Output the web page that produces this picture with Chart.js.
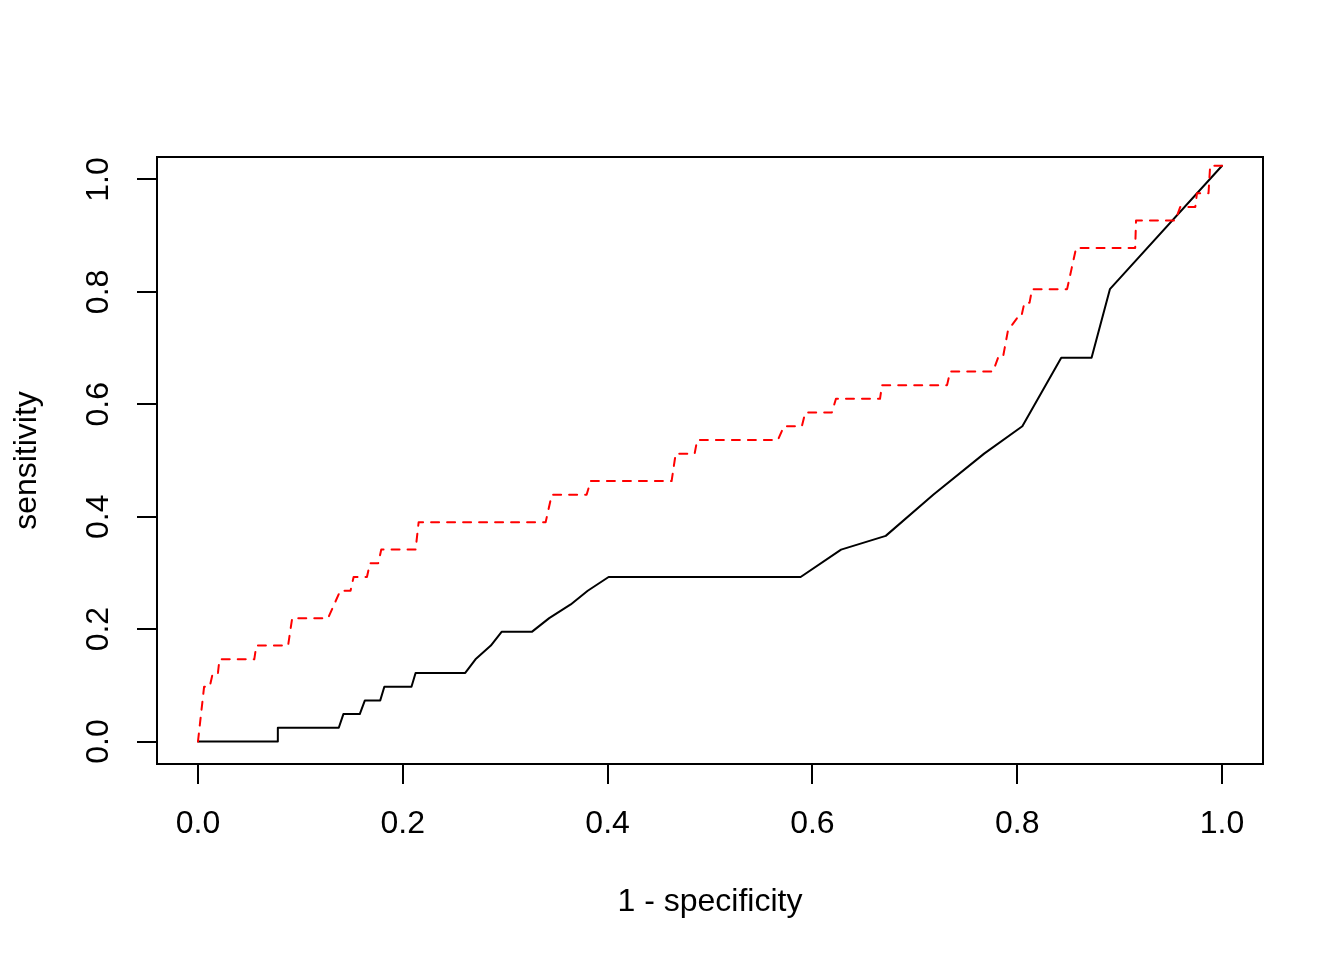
<!DOCTYPE html>
<html>
<head>
<meta charset="utf-8">
<script src="https://cdn.jsdelivr.net/npm/chart.js@4.4.1/dist/chart.umd.min.js"></script>
<style>
  html, body { margin: 0; padding: 0; background: #ffffff; }
  #c { display: block; }
</style>
</head>
<body>
<canvas id="c" width="1344" height="960"></canvas>
<script>
// ---- data ----
const xTitle = "1 - specificity";
const yTitle = "sensitivity";
const tickValues = [0.0, 0.2, 0.4, 0.6, 0.8, 1.0];

// black solid curve
const blackX = [0, 0.0775, 0.078, 0.1375, 0.142, 0.158, 0.163, 0.178, 0.182, 0.2085,
  0.2125, 0.261, 0.271, 0.286, 0.2965, 0.326, 0.343, 0.364, 0.3806, 0.401,
  0.5885, 0.628, 0.6716, 0.718, 0.7677, 0.805, 0.843, 0.8726, 0.8905, 1.0];
const blackY = [0, 0, 0.0244, 0.0244, 0.0488, 0.0488, 0.0732, 0.0732, 0.0976, 0.0976,
  0.1220, 0.1220, 0.1463, 0.1707, 0.1951, 0.1951, 0.2195, 0.2439, 0.2683, 0.2927,
  0.2927, 0.3415, 0.3659, 0.4390, 0.5122, 0.5610, 0.6829, 0.6829, 0.8049, 1.0244];

// red dashed curve
const redX = [0, 0.006, 0.0115, 0.0145, 0.0195, 0.021, 0.055, 0.057, 0.088, 0.090,
  0.092, 0.127, 0.133, 0.139, 0.149, 0.152, 0.165, 0.168, 0.176, 0.179,
  0.2125, 0.2155, 0.3395, 0.3455, 0.3795, 0.3835, 0.4625, 0.4665, 0.485, 0.4875,
  0.5663, 0.5722, 0.5897, 0.593, 0.619, 0.623, 0.666, 0.668, 0.7315, 0.7345,
  0.7764, 0.7813, 0.786, 0.791, 0.801, 0.804, 0.807, 0.812, 0.8145, 0.8487,
  0.8575, 0.9152, 0.916, 0.9543, 0.9592, 0.9739, 0.9755, 0.9868, 0.9884, 1.0];
const redY = [0, 0.0976, 0.0976, 0.1220, 0.1220, 0.1463, 0.1463, 0.1707, 0.1707, 0.1951,
  0.2195, 0.2195, 0.2439, 0.2683, 0.2683, 0.2927, 0.2927, 0.3171, 0.3171, 0.3415,
  0.3415, 0.3902, 0.3902, 0.4390, 0.4390, 0.4634, 0.4634, 0.5122, 0.5122, 0.5366,
  0.5366, 0.5610, 0.5610, 0.5854, 0.5854, 0.6098, 0.6098, 0.6341, 0.6341, 0.6585,
  0.6585, 0.6829, 0.6829, 0.7317, 0.7561, 0.7561, 0.7805, 0.7805, 0.8049, 0.8049,
  0.8780, 0.8780, 0.9268, 0.9268, 0.9512, 0.9512, 0.9756, 0.9756, 1.0244, 1.0244];

// ---- build chart ----
const toPts = (xs, ys) => xs.map((x, i) => ({ x: x, y: ys[i] }));
const FONT = "'Liberation Sans', Arial, Helvetica, sans-serif";

const framePlugin = {
  id: 'frame',
  afterDatasetsDraw(chart) {
    const a = chart.chartArea, ctx = chart.ctx;
    ctx.save();
    ctx.strokeStyle = '#000000';
    ctx.lineWidth = 2;
    ctx.strokeRect(a.left, a.top, a.right - a.left, a.bottom - a.top);
    ctx.restore();
  }
};

const setTicks = (scale) => { scale.ticks = tickValues.map(v => ({ value: v })); };

new Chart(document.getElementById('c'), {
  type: 'line',
  data: {
    datasets: [
      {
        data: toPts(redX, redY),
        borderColor: '#ff0000',
        borderWidth: 2,
        borderDash: [8, 8],
        borderCapStyle: 'round',
        borderJoinStyle: 'round',
        pointRadius: 0,
        tension: 0,
        fill: false,
        order: 0
      },
      {
        data: toPts(blackX, blackY),
        borderColor: '#000000',
        borderWidth: 2,
        borderCapStyle: 'round',
        borderJoinStyle: 'round',
        pointRadius: 0,
        tension: 0,
        fill: false,
        order: 1
      }
    ]
  },
  options: {
    responsive: false,
    devicePixelRatio: 1,
    animation: false,
    layout: { padding: { top: 157, right: 81, left: 0, bottom: 0 } },
    plugins: { legend: { display: false }, tooltip: { enabled: false } },
    scales: {
      x: {
        type: 'linear',
        min: -0.04,
        max: 1.04,
        afterBuildTicks: setTicks,
        afterFit: (s) => { s.height = 196; },
        border: { display: false },
        grid: { drawOnChartArea: false, drawTicks: true, tickLength: 20, color: '#000000', lineWidth: 2 },
        ticks: {
          autoSkip: false, maxRotation: 0, minRotation: 0, padding: 21,
          color: '#000000', font: { family: FONT, size: 32 },
          callback: (v) => Number(v).toFixed(1)
        },
        title: {
          display: true, text: xTitle, color: '#000000',
          font: { family: FONT, size: 32 }, padding: { top: 0, bottom: 39 }
        }
      },
      y: {
        type: 'linear',
        min: -0.04,
        max: 1.04,
        afterBuildTicks: setTicks,
        afterFit: (s) => { s.width = 157; },
        border: { display: false },
        grid: { drawOnChartArea: false, drawTicks: true, tickLength: 20, color: '#000000', lineWidth: 2 },
        ticks: {
          autoSkip: false, minRotation: 90, maxRotation: 90, crossAlign: 'center', padding: 16,
          color: '#000000', font: { family: FONT, size: 32 },
          callback: (v) => Number(v).toFixed(1)
        },
        title: {
          display: true, text: yTitle, color: '#000000',
          font: { family: FONT, size: 32 }, padding: { top: 8, bottom: 0 }
        }
      }
    }
  },
  plugins: [framePlugin]
});
</script>
</body>
</html>
